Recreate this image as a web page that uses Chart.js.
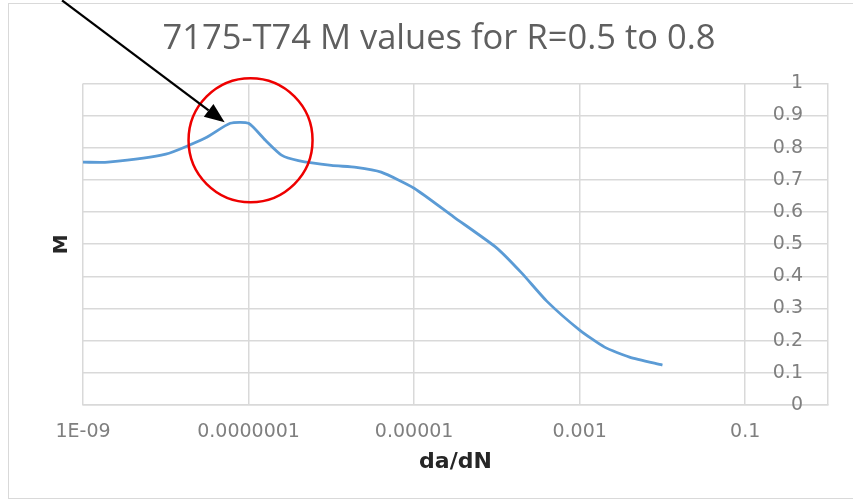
<!DOCTYPE html>
<html>
<head>
<meta charset="utf-8">
<script src="https://cdn.jsdelivr.net/npm/chart.js@4.4.1/dist/chart.umd.min.js"></script>
<style>
  html, body { margin: 0; padding: 0; background: #fff; }
  #frame { position: absolute; left: 8px; top: 3px; width: 850px; height: 494px; border: 1px solid #d9d9d9; }
  #wrap { position: absolute; left: 0; top: 0; width: 853px; height: 499px; }
</style>
</head>
<body>
<div id="frame"></div>
<div id="wrap"><canvas id="grafico" width="853" height="499"></canvas></div>
<script>
// da/dN (x) and M (y)
const daDN = [1e-9, 2e-9, 1e-8, 3e-8, 6e-8, 1e-7, 1.6e-7, 2.5e-7, 4e-7, 1e-6, 2e-6, 4e-6,
              1e-5, 3e-5, 1e-4, 2e-4, 4e-4, 1e-3, 2e-3, 4e-3, 1e-2];
const mValues = [0.755, 0.755, 0.78, 0.83, 0.876, 0.876, 0.823, 0.777, 0.76, 0.745, 0.739, 0.724,
                 0.674, 0.585, 0.488, 0.41, 0.323, 0.233, 0.18, 0.149, 0.124];
const xTickValues = [1e-9, 1e-7, 1e-5, 1e-3, 1e-1];
const xTickLabels = ['1E-09', '0.0000001', '0.00001', '0.001', '0.1'];

// annotation anchors, in data units
const circleCenter = { x: 1.057e-7, y: 0.823 };
const arrowFrom = { x: 5.58e-10, y: 1.258 };
const arrowTo = { x: 5.14e-8, y: 0.879 };

const pontos = daDN.map((x, i) => ({ x: x, y: mValues[i] }));

// red circle + black arrow drawn over the chart
const anotacoes = {
    id: 'anotacoes',
    afterDraw(chart) {
        const ctx = chart.ctx;
        const sx = chart.scales.x, sy = chart.scales.y;
        ctx.save();
        // circle
        ctx.beginPath();
        ctx.strokeStyle = '#ee0000';
        ctx.lineWidth = 2.5;
        ctx.arc(sx.getPixelForValue(circleCenter.x), sy.getPixelForValue(circleCenter.y), 62, 0, Math.PI * 2);
        ctx.stroke();
        // arrow
        const x1 = sx.getPixelForValue(arrowFrom.x), y1 = sy.getPixelForValue(arrowFrom.y);
        const x2 = sx.getPixelForValue(arrowTo.x), y2 = sy.getPixelForValue(arrowTo.y);
        const ang = Math.atan2(y2 - y1, x2 - x1);
        const len = 20, half = 8;
        const bx = x2 - len * Math.cos(ang), by = y2 - len * Math.sin(ang);
        ctx.beginPath();
        ctx.strokeStyle = '#000';
        ctx.lineWidth = 2.3;
        ctx.moveTo(x1, y1);
        ctx.lineTo(bx, by);
        ctx.stroke();
        ctx.beginPath();
        ctx.fillStyle = '#000';
        ctx.moveTo(x2, y2);
        ctx.lineTo(bx + half * Math.sin(ang), by - half * Math.cos(ang));
        ctx.lineTo(bx - half * Math.sin(ang), by + half * Math.cos(ang));
        ctx.closePath();
        ctx.fill();
        ctx.restore();
    }
};

const ctx = document.getElementById('grafico').getContext('2d');
new Chart(ctx, {
    type: 'line',
    data: {
        datasets: [{
            label: 'M',
            data: pontos,
            borderColor: '#5b9bd5',
            borderWidth: 2.8,
            pointRadius: 0,
            tension: 0.2,
            fill: false
        }]
    },
    options: {
        responsive: false,
        animation: false,
        layout: { padding: { top: 0, left: 50, right: 25, bottom: 24 } },
        plugins: {
            legend: { display: false },
            tooltip: { enabled: false },
            title: {
                display: true,
                text: '7175-T74 M values for R=0.5 to 0.8',
                color: '#5f5f5f',
                font: { family: 'Open Sans', size: 34.5, weight: 'normal' },
                padding: { top: 18, bottom: 24 }
            }
        },
        scales: {
            x: {
                type: 'logarithmic',
                min: 1e-9,
                max: 1,
                afterBuildTicks: (s) => { s.ticks = xTickValues.map(v => ({ value: v })); },
                afterFit: (s) => { s.paddingLeft = 0; s.paddingRight = 0; s.height = 70; },
                ticks: {
                    autoSkip: false,
                    maxRotation: 0,
                    padding: 16,
                    color: '#7f7f7f',
                    font: { family: 'DejaVu Sans', size: 19 },
                    callback: (v, i) => xTickLabels[i]
                },
                grid: { color: '#d9d9d9', lineWidth: 1.5, drawTicks: false },
                border: { color: '#d9d9d9', width: 1.5 },
                title: {
                    display: true,
                    text: 'da/dN',
                    color: '#262626',
                    font: { family: 'DejaVu Sans', size: 22, weight: 'bold' },
                    padding: { top: 0, bottom: 0 }
                }
            },
            y: {
                position: 'right',
                min: 0,
                max: 1,
                afterFit: (s) => { s.paddingTop = 0; s.paddingBottom = 0; s.width = 0; },
                ticks: {
                    stepSize: 0.1,
                    mirror: true,
                    padding: -25,
                    color: '#7f7f7f',
                    font: { family: 'DejaVu Sans', size: 19 },
                    callback: (v) => String(Math.round(v * 10) / 10)
                },
                grid: { color: '#d9d9d9', lineWidth: 1.5, drawTicks: false },
                border: { color: '#d9d9d9', width: 1.5 }
            },
            yTitulo: {
                position: 'left',
                min: 0,
                max: 1,
                ticks: { display: false },
                grid: { display: false, drawTicks: false },
                border: { display: false },
                title: {
                    display: true,
                    text: 'M',
                    color: '#262626',
                    font: { family: 'DejaVu Sans', size: 20, weight: 'bold' },
                    padding: { top: 0, bottom: 9 }
                }
            }
        }
    },
    plugins: [anotacoes]
});
</script>
</body>
</html>
